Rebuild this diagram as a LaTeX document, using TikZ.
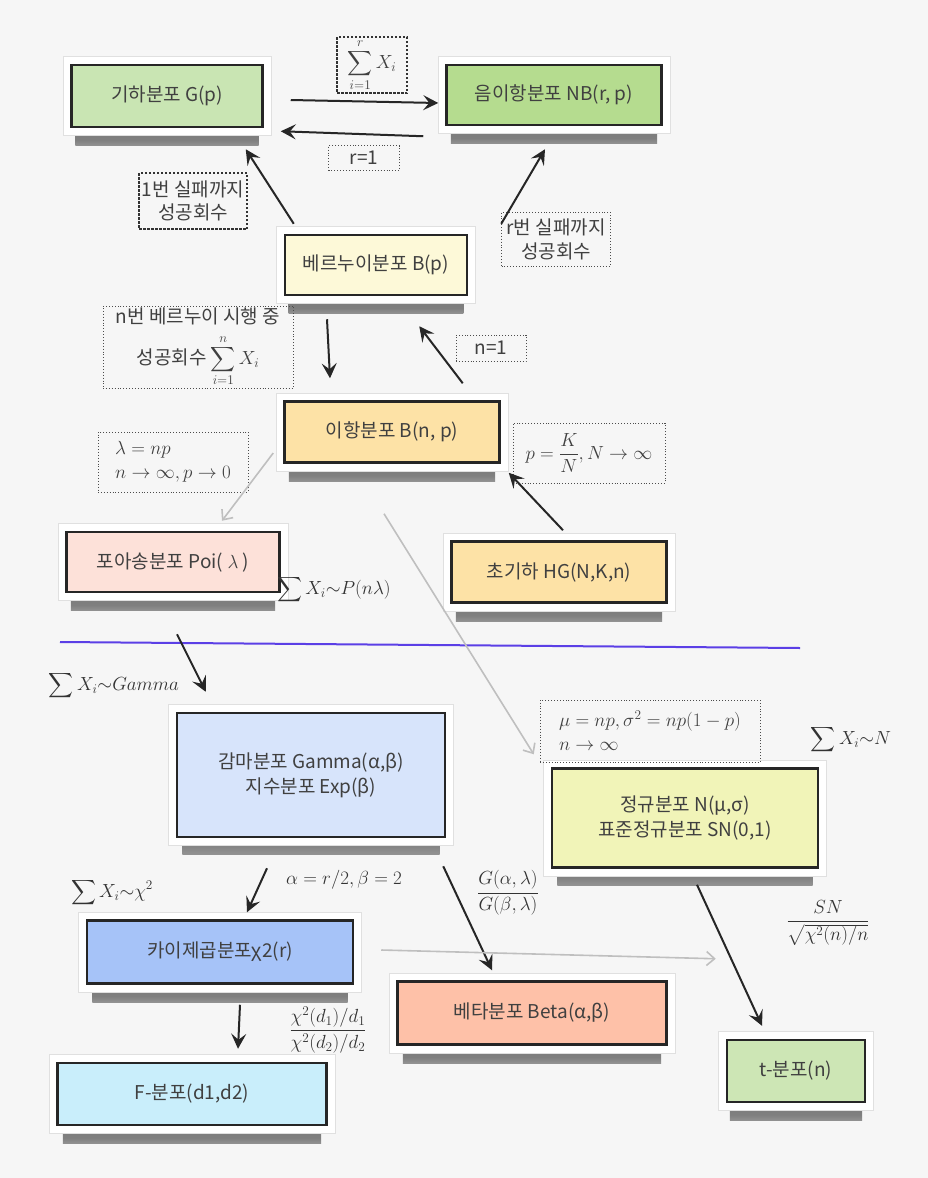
\RequirePackage{fix-cm}
\documentclass[tikz,border=0pt]{standalone}
\usepackage{amsmath}
\usepackage{exscale}
\usepackage[no-math]{fontspec}
\setmainfont{Noto Sans CJK KR}
\usetikzlibrary{arrows.meta,shadows}

\definecolor{bgcol}{HTML}{F6F6F6}
\definecolor{geocol}{HTML}{C9E5B3}
\definecolor{nbcol}{HTML}{B5DC8F}
\definecolor{berncol}{HTML}{FDF9D8}
\definecolor{bincol}{HTML}{FDE2A6}
\definecolor{poicol}{HTML}{FDE1D9}
\definecolor{gamcol}{HTML}{D7E4FB}
\definecolor{normcol}{HTML}{F1F4B8}
\definecolor{chicol}{HTML}{A6C3F8}
\definecolor{betacol}{HTML}{FEC1A8}
\definecolor{fcol}{HTML}{C9EEFB}
\definecolor{tcol}{HTML}{CDE6B5}
\definecolor{sepcol}{HTML}{5B3FE6}

\pgfdeclareverticalshading{shadowfade}{100bp}{color(0bp)=(bgcol); color(30bp)=(black!50); color(100bp)=(black!65)}

\tikzset{
  distbox/.style={rectangle, draw=black!85, line width=2.5pt, text=black!75,
    align=center, inner sep=0pt, font=\fontsize{19}{25}\selectfont,
    general shadow={shadow xshift=0pt, shadow yshift=-21pt, shadow scale=0.96, shade, shading=shadowfade},
    preaction={draw=black!12, line width=18pt},
    preaction={draw=white, line width=16pt}},
  dashlbl/.style={draw=black!80, dash pattern=on 2.5pt off 1.5pt, line width=1.3pt,
    text=black!75, align=center, inner sep=0pt, font=\fontsize{19}{23}\selectfont},
  dotlbl/.style={draw=black!70, dotted, line width=0.9pt,
    text=black!75, align=center, inner sep=0pt, font=\fontsize{19}{24}\selectfont},
  mathlbl/.style={text=black!80, inner sep=0pt, font=\fontsize{19}{23}\selectfont},
  arr/.style={color=black!85, line width=2pt, -{Stealth[length=15pt,width=15pt,inset=6pt]}},
  garr/.style={color=black!25, line width=1.6pt, -{Straight Barb[length=8pt,width=14pt]}}
}

\begin{document}
\begin{tikzpicture}[x=1pt,y=-1pt]
\fill[bgcol] (0,0) rectangle (928,1178);
\useasboundingbox (0,0) rectangle (928,1178);

% discrete
\node[distbox, fill=geocol, minimum width=191pt, minimum height=62pt] (geo) at (167,96) {기하분포 G(p)};
\node[distbox, fill=nbcol, minimum width=215pt, minimum height=60pt] (nb) at (554,95) {음이항분포 NB(r, p)};
\node[distbox, fill=berncol, minimum width=182pt, minimum height=60pt] (bern) at (376,265) {베르누이분포 B(p)};
\node[distbox, fill=bincol, minimum width=215pt, minimum height=61pt] (binom) at (392,432) {이항분포 B(n, p)};
\node[distbox, fill=poicol, minimum width=213pt, minimum height=60pt] (poi) at (173,562) {포아송분포 Poi( $\lambda$ )};
\node[distbox, fill=bincol, minimum width=215pt, minimum height=61pt] (hg) at (559,572) {초기하 HG(N,K,n)};

% continuous
\node[distbox, fill=gamcol, minimum width=268pt, minimum height=124pt] (gamma) at (311,775) {감마분포 Gamma(α,β)\\지수분포 Exp(β)};
\node[distbox, fill=normcol, minimum width=266pt, minimum height=99pt] (normal) at (685,818) {정규분포 N(μ,σ)\\표준정규분포 SN(0,1)};
\node[distbox, fill=chicol, minimum width=266pt, minimum height=63pt] (chi) at (220,952) {카이제곱분포χ2(r)};
\node[distbox, fill=betacol, minimum width=269pt, minimum height=63pt] (beta) at (532,1013) {베타분포 Beta(α,β)};
\node[distbox, fill=fcol, minimum width=269pt, minimum height=62pt] (fdist) at (192,1094) {F-분포(d1,d2)};
\node[distbox, fill=tcol, minimum width=138pt, minimum height=62pt] (tdist) at (796,1071) {t-분포(n)};

% conditions
\node[dashlbl, minimum width=70pt, minimum height=56pt] (sumr) at (372,65) {$\displaystyle\sum_{i=1}^{r} X_i$};
\node[dotlbl, minimum width=71pt, minimum height=25pt] (rone) at (364,158) {r=1};
\node[dashlbl, minimum width=108pt, minimum height=56pt] (onefail) at (193,201) {1번 실패까지\\성공회수};
\node[dotlbl, minimum width=109pt, minimum height=54pt] (rfail) at (556,239) {r번 실패까지\\성공회수};
\node[dotlbl, minimum width=190pt, minimum height=82pt] (ntrial) at (198,347) {n번 베르누이 시행 중\\[9pt]성공회수 $\displaystyle\sum_{i=1}^{n} X_i$};
\node[dotlbl, minimum width=70pt, minimum height=26pt] (none) at (491,348) {n=1};
\node[dotlbl, minimum width=150pt, minimum height=60pt, align=left] (lampar) at (173,462) {$\lambda = np$\\$n \to \infty, p \to 0$};
\node[dotlbl, minimum width=152pt, minimum height=60pt] (kpar) at (589,453) {$p=\dfrac{K}{N}, N \to \infty$};
\node[dotlbl, minimum width=220pt, minimum height=62pt, align=left] (mupar) at (650,731) {$\mu = np, \sigma^2 = np(1-p)$\\$n \to \infty$};

% sums and ratios
\node[mathlbl] (sumpoi) at (334,590) {$\displaystyle\sum X_i{\sim}P(n\lambda)$};
\node[mathlbl] (sumgam) at (114,686) {$\displaystyle\sum X_i{\sim}Gamma$};
\node[mathlbl] (sumnorm) at (851,740) {$\displaystyle\sum X_i{\sim}N$};
\node[mathlbl] (sumchi) at (112,893) {$\displaystyle\sum X_i{\sim}\chi^2$};
\node[mathlbl] (alphar) at (344,880) {$\alpha = r/2, \beta = 2$};
\node[mathlbl] (gratio) at (508,893) {$\dfrac{G(\alpha,\lambda)}{G(\beta,\lambda)}$};
\node[mathlbl] (tratio) at (828,923) {$\dfrac{SN}{\sqrt{\chi^2(n)/n}}$};
\node[mathlbl] (fratio) at (328,1030) {$\dfrac{\chi^2(d_1)/d_1}{\chi^2(d_2)/d_2}$};

% separator
\draw[sepcol, line width=2pt] (60,642) -- (800,648);

\path[arr]
([xshift=27pt,yshift=-4pt]geo.east) edge ([xshift=-7pt,yshift=-8pt]nb.west)
([xshift=-22pt,yshift=-10pt]nb.south west) edge ([xshift=17pt,yshift=-3pt]geo.south east)
([xshift=10pt,yshift=10pt]bern.north west) edge ([xshift=-18pt,yshift=-21pt]geo.south east)
([xshift=33pt,yshift=10pt]bern.north east) edge ([xshift=-9pt,yshift=-23pt]nb.south)
([xshift=-49pt,yshift=-23pt]bern.south) edge ([xshift=-62pt,yshift=22pt]binom.north)
([xshift=-38pt,yshift=17pt]binom.north east) edge ([xshift=-49pt,yshift=-30pt]bern.south east)
([xshift=4pt,yshift=10pt]hg.north) edge ([xshift=8pt,yshift=-9pt]binom.south east)
([xshift=4pt,yshift=-41pt]poi.south) edge ([xshift=30pt,yshift=20pt]gamma.north west)
([xshift=-44pt,yshift=-30pt]gamma.south) edge ([xshift=27pt,yshift=7pt]chi.north)
([xshift=-3pt,yshift=-28pt]gamma.south east) edge ([xshift=-40pt,yshift=10pt]beta.north)
([xshift=12pt,yshift=-16pt]normal.south) edge ([xshift=-34pt,yshift=13pt]tdist.north)
([xshift=20pt,yshift=-20pt]chi.south) edge ([xshift=46pt,yshift=13pt]fdist.north);

\path[garr]
([xshift=-10pt,yshift=-21pt]binom.west) edge ([xshift=49pt,yshift=10pt]poi.north)
([xshift=-8pt,yshift=-50pt]binom.south) edge ([xshift=-17pt,yshift=13pt]normal.north west)
([xshift=27pt,yshift=2pt]chi.east) edge ([xshift=-10pt,yshift=80pt]tdist.north west);
\end{tikzpicture}
\end{document}
